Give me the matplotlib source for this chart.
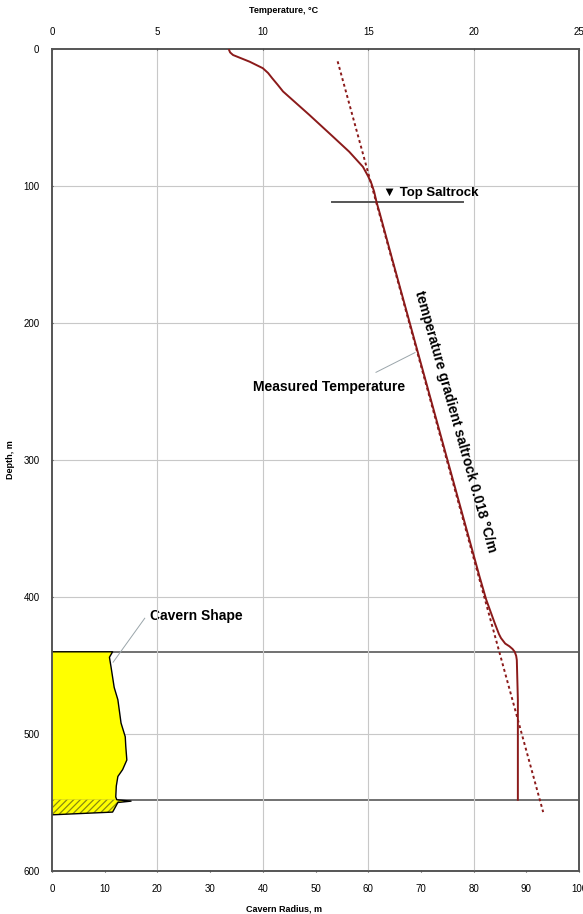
import matplotlib
matplotlib.use("Agg")
import matplotlib.pyplot as plt

plt.rcParams['font.family'] = ['Liberation Sans', 'DejaVu Sans']
plt.rcParams['hatch.linewidth'] = 0.9

# ---- data ----
temp_depth = [0.7, 2.5, 4.4, 9.3, 14, 17.5, 21.4, 26, 31, 48, 64, 75, 86, 93, 98, 104, 108, 112, 120, 154,
              385, 402, 419, 427, 430, 434, 436, 438, 440, 443, 446, 475, 548]
temp_values = [8.40, 8.45, 8.59, 9.38, 10.0, 10.25, 10.45, 10.7, 10.96, 12.2, 13.33, 14.1, 14.75, 15.0,
               15.15, 15.28, 15.34, 15.40, 15.55, 16.15, 20.28, 20.6, 21.0, 21.2, 21.3, 21.5, 21.7,
               21.85, 21.95, 22.02, 22.05, 22.1, 22.1]

gradient_temp = [13.55, 23.3]
gradient_depth = [9, 557]

cavern_depth = [440, 444, 451, 466, 475, 492, 502, 509, 519, 526, 531, 538, 546, 548]
cavern_radius = [11.5, 10.9, 11.2, 11.8, 12.5, 13.1, 13.9, 14.0, 14.2, 13.4, 12.5, 12.2, 12.1, 12.3]

sump_depth = [548, 549, 550, 557, 559]
sump_radius = [12.3, 15.0, 12.5, 11.5, 0.0]

cavern_top = 440
cavern_bottom = 548
top_saltrock_depth = 112
top_saltrock_temp = [13.3, 19.5]

depth_ticks = [0, 100, 200, 300, 400, 500, 600]
radius_ticks = [0, 10, 20, 30, 40, 50, 60, 70, 80, 90, 100]
temp_ticks = [0, 5, 10, 15, 20, 25]

# ---- figure ----
fig = plt.figure(figsize=(5.83, 9.14), dpi=100)
ax = fig.add_axes([52/583, 1-871/914, 527/583, 822/914])
axt = ax.twiny()

red = '#8b1a1a'
grid_c = '#c8c8c8'
spine_c = '#555555'

ax.set_xlim(0, 100)
ax.set_ylim(600, 0)
axt.set_xlim(0, 25)

# grids
for d in depth_ticks[1:-1]:
    ax.axhline(d, color=grid_c, lw=0.8, zorder=0)
for t in temp_ticks[1:-1]:
    axt.axvline(t, color=grid_c, lw=0.8, zorder=0)

# cavern limits
ax.axhline(cavern_top, color='#666666', lw=1.3, zorder=1)
ax.axhline(cavern_bottom, color='#666666', lw=1.3, zorder=1)

# cavern shape
ax.fill_betweenx(cavern_depth, 0, cavern_radius, facecolor='#ffff00', edgecolor='none', zorder=2)
ax.fill_betweenx(sump_depth, 0, sump_radius, facecolor='#ffff00', edgecolor='#8a8a10',
                 hatch='/////', linewidth=0, zorder=2)
ax.plot([0] + cavern_radius + sump_radius, [cavern_top] + cavern_depth + sump_depth,
        color='black', lw=1.0, zorder=3)

# temperature
axt.plot(temp_values, temp_depth, color=red, lw=1.4, zorder=4)
axt.plot(gradient_temp, gradient_depth, color=red, lw=1.4, ls=(0, (1.5, 1.5)), zorder=4)
axt.plot(top_saltrock_temp, [top_saltrock_depth]*2, color='#555555', lw=1.4, zorder=3)

# annotations
fs = 10
axt.text(15.7, 105, '▼ Top Saltrock', fontsize=9.5, fontweight='bold', ha='left', va='center')
axt.text(13.14, 247, 'Measured Temperature', fontsize=fs, fontweight='bold', ha='center', va='center')
axt.plot([15.37, 17.22], [236, 221.6], color='#9aa5aa', lw=0.7)
axt.text(19.15, 272, 'temperature gradient saltrock 0.018 °C/m', fontsize=fs, fontweight='bold',
         rotation=-74.3, rotation_mode='anchor', ha='center', va='center')
ax.text(27.4, 414, 'Cavern Shape', fontsize=fs, fontweight='bold', ha='center', va='center')
ax.plot([17.6, 11.6], [415.5, 447.6], color='#9aa5aa', lw=0.7)

# ticks
ax.set_yticks(depth_ticks)
ax.set_xticks(radius_ticks)
axt.set_xticks(temp_ticks)
ax.tick_params(axis='both', labelsize=7, length=2, width=0.8, direction='inout', pad=8, colors='#333333',
               labelcolor='black')
axt.tick_params(axis='x', labelsize=7, length=2, width=0.8, direction='inout', pad=8, colors='#333333',
                labelcolor='black')

for a in (ax, axt):
    for s in a.spines.values():
        s.set_color(spine_c)
        s.set_linewidth(1.2)

ax.set_ylabel('Depth, m', fontsize=6.5, fontweight='bold')
ax.yaxis.set_label_coords(-0.070, 0.5)
ax.set_xlabel('Cavern Radius, m', fontsize=6.5, fontweight='bold')
ax.xaxis.set_label_coords(0.44, -0.041)
axt.set_xlabel('Temperature, °C', fontsize=6.5, fontweight='bold')
axt.xaxis.set_label_coords(0.44, 1.044)

fig.savefig('out.png', dpi=100)
